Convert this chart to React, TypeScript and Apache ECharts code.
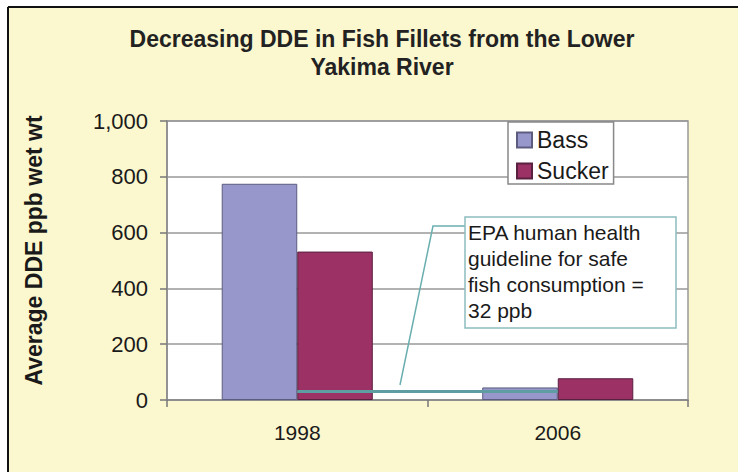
import React, { useEffect, useRef } from "react";
import * as echarts from "echarts";

const categories = ["1998", "2006"];
const bassValues = [775, 45];
const suckerValues = [532, 78];
const guidelineValue = 32;
const seriesNames = ["Bass", "Sucker"];
const titleText = "Decreasing DDE in Fish Fillets from the Lower\nYakima River";
const yAxisTitle = "Average DDE ppb wet wt";
const calloutLines = ["EPA human health", "guideline for safe", "fish consumption =", "32 ppb"];

const FONT = "'Liberation Sans', Arial, sans-serif";

export default function App() {
  const ref = useRef<HTMLDivElement>(null);

  useEffect(() => {
    if (!ref.current) return;
    const chart = echarts.init(ref.current, null, { renderer: "svg" });
    const option: any = {
      animation: false,
      backgroundColor: "#FBF7CE",
      textStyle: { fontFamily: FONT },
      title: {
        text: titleText,
        left: 377,
        top: 20,
        textAlign: "center",
        textStyle: {
          fontFamily: FONT,
          fontSize: 23,
          fontWeight: "bold",
          color: "#222",
          lineHeight: 28,
        },
      },
      legend: {
        orient: "vertical",
        left: 508,
        top: 122,
        padding: [6, 5, 1, 8],
        itemGap: 7,
        itemWidth: 15,
        itemHeight: 15,
        icon: "rect",
        borderColor: "#888",
        borderWidth: 1.5,
        backgroundColor: "#fff",
        data: seriesNames,
        textStyle: { fontFamily: FONT, fontSize: 23, color: "#1a1a1a", lineHeight: 24 },
      },
      grid: {
        left: 167,
        top: 121,
        right: 50,
        bottom: 72,
        show: true,
        backgroundColor: "#fff",
        borderColor: "#999",
        borderWidth: 1.5,
      },
      xAxis: {
        type: "category",
        data: categories,
        axisLine: { lineStyle: { color: "#888", width: 1.5 } },
        axisTick: { show: true, length: 7, lineStyle: { color: "#777", width: 1.5 } },
        axisLabel: { fontFamily: FONT, fontSize: 21, color: "#1a1a1a", margin: 22 },
      },
      yAxis: {
        type: "value",
        min: 0,
        max: 1000,
        interval: 200,
        name: yAxisTitle,
        nameLocation: "middle",
        nameRotate: 90,
        nameGap: 122,
        nameTextStyle: {
          fontFamily: FONT,
          fontSize: 23,
          fontWeight: "bold",
          color: "#1a1a1a",
          padding: [0, 0, 0, 20],
        },
        axisLine: { show: true, lineStyle: { color: "#888", width: 1.5 } },
        axisTick: { show: true, length: 7, lineStyle: { color: "#777", width: 1.5 } },
        splitLine: { lineStyle: { color: "#999", width: 1.5 } },
        axisLabel: {
          fontFamily: FONT,
          fontSize: 22,
          color: "#1a1a1a",
          margin: 19,
          formatter: (v: number) => v.toLocaleString("en-US"),
        },
      },
      series: [
        {
          name: seriesNames[0],
          type: "bar",
          data: bassValues,
          barGap: "0%",
          barCategoryGap: "42%",
          itemStyle: { color: "#9797CB", borderColor: "#5c5c80", borderWidth: 1 },
        },
        {
          name: seriesNames[1],
          type: "bar",
          data: suckerValues,
          barGap: "0%",
          barCategoryGap: "42%",
          itemStyle: { color: "#9B3165", borderColor: "#5a2040", borderWidth: 1 },
        },
        {
          name: "guideline",
          type: "line",
          data: [],
          z: 5,
          markLine: {
            silent: true,
            symbol: "none",
            label: { show: false },
            lineStyle: { color: "#5E9EA2", width: 3, type: "solid" },
            data: [[{ coord: [categories[0], guidelineValue] }, { coord: [categories[1], guidelineValue] }]],
          },
        },
      ],
      graphic: [
        { type: "rect", shape: { x: 0, y: 0, width: 738, height: 6 }, style: { fill: "#fff" }, z: 100 },
        { type: "rect", shape: { x: 0, y: 0, width: 7, height: 472 }, style: { fill: "#fff" }, z: 100 },
        { type: "line", shape: { x1: 8, y1: 7, x2: 738, y2: 7 }, style: { stroke: "#111", lineWidth: 2 }, z: 100 },
        { type: "line", shape: { x1: 8, y1: 7, x2: 8, y2: 472 }, style: { stroke: "#111", lineWidth: 2 }, z: 100 },
        {
          type: "polyline",
          shape: { points: [[465, 226], [433, 226], [400, 385]] },
          style: { stroke: "#6AAEB0", lineWidth: 1.5, fill: null },
          z: 100,
        },
        {
          type: "rect",
          shape: { x: 465, y: 217, width: 211, height: 111 },
          style: { fill: "#fff", stroke: "#8DBCC0", lineWidth: 1.5 },
          z: 100,
        },
        {
          type: "text",
          x: 468,
          y: 219,
          z: 101,
          style: {
            text: calloutLines.join("\n"),
            fontFamily: FONT,
            fontSize: 21,
            lineHeight: 26,
            fill: "#1a1a1a",
          },
        },
      ],
    };
    chart.setOption(option);
    return () => chart.dispose();
  }, []);

  return (
    <div style={{ position: "fixed", left: 0, top: 0, width: 738, height: 472, background: "#fff" }}>
      <div ref={ref} style={{ width: 738, height: 472 }} />
    </div>
  );
}
